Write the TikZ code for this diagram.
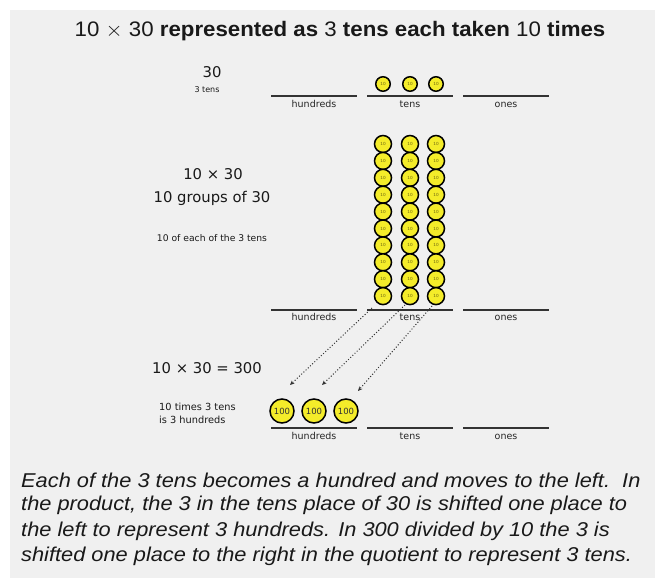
\documentclass[tikz,border=0pt]{standalone}
\usepackage{fontspec}
\setmainfont{Liberation Sans}
\newfontfamily\lab{DejaVu Sans}
\usetikzlibrary{arrows.meta}
\definecolor{bg}{HTML}{F0F0F0}
\definecolor{coinyellow}{HTML}{F4EC2A}
\definecolor{linegray}{HTML}{333333}
\definecolor{cointext}{HTML}{6A6410}
\tikzset{
  coin/.style={circle, draw=black, line width=1.5pt, fill=coinyellow, inner sep=0pt,
    minimum size=14.5pt, text=cointext, font=\lab\fontsize{4.2}{5}\selectfont},
  bigcoin/.style={coin, minimum size=24pt, font=\lab\fontsize{8.5}{9}\selectfont, text=black!80},
  placeline/.style={draw=linegray, line width=2pt},
  placelab/.style={font=\lab\fontsize{9.5}{10}\selectfont, text=black!85, inner sep=0pt, anchor=base},
  biglab/.style={font=\lab\fontsize{14.8}{17}\selectfont, inner sep=0pt, text=black!90},
  smalllab/.style={font=\lab\fontsize{8}{9.5}\selectfont, inner sep=0pt, text=black!90},
  para/.style={font=\fontsize{20}{22}\selectfont\itshape, anchor=west, inner sep=0pt, text=black!90},
  mover/.style={draw=black!80, dotted, line width=1pt, -{Stealth[length=4.5pt,width=4pt]}}
}
\newcommand{\parline}[1]{\scalebox{1.09}[1]{#1}}
\begin{document}
\begin{tikzpicture}[x=1pt,y=-1pt]
\useasboundingbox (0,0) rectangle (655,578);
\fill[white] (0,0) rectangle (655,578);
\fill[bg] (10,10) rectangle (655,578);

% title
\node[font=\fontsize{21}{24}\selectfont, inner sep=0pt, text=black!90] (title) at (340,31)
  {\scalebox{1.06}[1]{10 $\times$ 30 \textbf{represented as} 3 \textbf{tens each taken} 10 \textbf{times}}};

% row 1
\node[biglab] (n30) at (212,72) {30};
\node[smalllab] (n3t) at (207,90) {3 tens};
\foreach \x/\nm/\t in {271/h1/hundreds, 367/t1/tens, 463/o1/ones}{
  \draw[placeline] (\x,96) -- ++(86,0);
  \node[placelab] (\nm) at (\x+43,107.5) {\t};
}
\foreach \x [count=\i] in {383,410,436}{
  \node[coin] (r1c\i) at (\x,84) {10};
}

% row 2
\node[biglab] (m1) at (213,174) {10 × 30};
\node[biglab] (m2) at (212,198) {10 groups of 30};
\node[smalllab, font=\lab\fontsize{9.2}{10}\selectfont] (m3) at (212,238) {10 of each of the 3 tens};
\foreach \x [count=\j] in {383,410,436}{
  \foreach \k in {0,...,9}{
    \node[coin, minimum size=17pt] (col\j-\k) at (\x,{144+\k*16.9}) {10};
  }
}
\foreach \x/\nm/\t in {271/h2/hundreds, 367/t2/tens, 463/o2/ones}{
  \draw[placeline] (\x,309.5) -- ++(86,0);
  \node[placelab] (\nm) at (\x+43,320.5) {\t};
}

% row 3
\node[biglab] (p1) at (207,368) {10 × 30 = 300};
\node[smalllab, align=left, anchor=west, font=\lab\fontsize{9.8}{13}\selectfont] (p2) at (159,413.5) {10 times 3 tens\\is 3 hundreds};
\foreach \x [count=\i] in {282,314,346}{
  \node[bigcoin] (hc\i) at (\x,411) {100};
}
\foreach \x/\nm/\t in {271/h3/hundreds, 367/t3/tens, 463/o3/ones}{
  \draw[placeline] (\x,428) -- ++(86,0);
  \node[placelab] (\nm) at (\x+43,439.5) {\t};
}

% arrows
\coordinate (s1) at (372,308);
\coordinate (s2) at (405,305);
\coordinate (s3) at (432,306);
\coordinate (e1) at (290,385);
\coordinate (e2) at (322,385);
\coordinate (e3) at (358,391);
\draw[mover] (s1) -- (e1);
\draw[mover] (s2) -- (e2);
\draw[mover] (s3) -- (e3);

% paragraph
\node[para] (l1) at (21,480) {\parline{Each of the 3 tens becomes a hundred and moves to the left.\ \ In}};
\node[para] (l2) at (21,505.5) {\parline{the product, the 3 in the tens place of 30 is shifted one place to}};
\node[para] (l3) at (21,531) {\parline{the left to represent 3 hundreds. In 300 divided by 10 the 3 is}};
\node[para] (l4) at (21,556.5) {\parline{shifted one place to the right in the quotient to represent 3 tens.}};
\end{tikzpicture}
\end{document}
